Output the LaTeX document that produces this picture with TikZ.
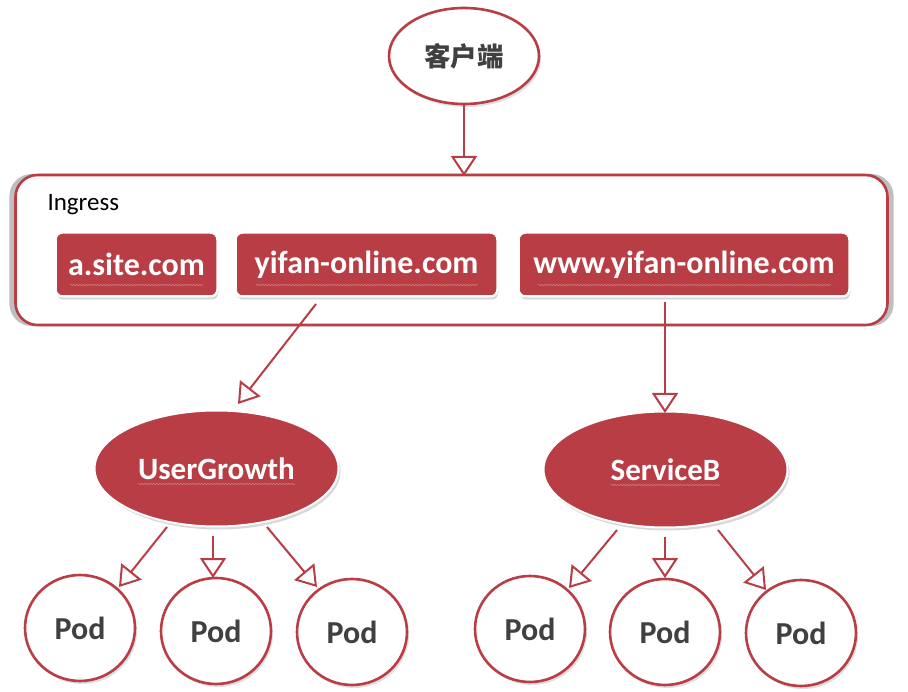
\documentclass[tikz,border=0pt]{standalone}
\usepackage{fontspec}
\setmainfont{Carlito}
\newfontfamily\cjk{Noto Sans CJK SC}
\usetikzlibrary{arrows.meta,shapes.geometric,shadows,decorations.pathmorphing}
\definecolor{rd}{RGB}{184,61,68}
\definecolor{txt}{RGB}{64,64,64}
\tikzset{
  conn/.style={draw=rd, line width=2pt, -{Triangle[open, length=20pt, width=26pt, line width=2pt, fill=white]}},
  podnode/.style={ellipse, draw=rd, line width=2.6pt, fill=white, minimum width=110pt, minimum height=106pt, inner sep=0pt,
    font=\fontsize{32}{36}\selectfont\bfseries, text=txt, drop shadow={shadow xshift=2pt, shadow yshift=-3pt, opacity=0.25}},
  svcnode/.style={ellipse, fill=rd, draw=white, line width=2pt, minimum width=244pt, minimum height=116pt, inner sep=0pt,
    font=\fontsize{31}{36}\selectfont\bfseries, text=white, drop shadow={shadow xshift=2pt, shadow yshift=-3pt, opacity=0.3}},
  hostbox/.style={rectangle, rounded corners=7pt, fill=rd, draw=white, line width=2.5pt, minimum height=64pt, inner sep=0pt,
    font=\fontsize{32}{36}\selectfont\bfseries, text=white, drop shadow={shadow xshift=1pt, shadow yshift=-3pt, opacity=0.35}},
  squig/.style={draw=rd!70!white, line width=0.6pt, decorate, decoration={snake, amplitude=0.8pt, segment length=3pt}}
}
\begin{document}
\begin{tikzpicture}[x=1pt,y=-1pt]
\useasboundingbox[fill=white] (0,0) rectangle (908,692);
% ingress container
\node[rectangle, rounded corners=22pt, draw=rd, line width=2.6pt, fill=white, minimum width=872pt, minimum height=150pt,
  drop shadow={shadow xshift=0pt, shadow yshift=0pt, shadow scale=1.014, opacity=0.5}] (ing) at (451.5,250) {};
\node[anchor=west, font=\fontsize{25}{28}\selectfont, text=black] (inglbl) at (44,205) {Ingress};
% client
\node[ellipse, draw=rd, line width=2.6pt, fill=white, minimum width=150pt, minimum height=96pt, inner sep=0pt,
  font=\cjk\fontsize{26.5}{30}\selectfont\bfseries, text=txt, drop shadow={shadow xshift=2pt, shadow yshift=-3pt, opacity=0.25}] (client) at (464,56) {客户端};
% host boxes
\node[hostbox, minimum width=162pt] (h1) at (136.5,264.5) {a.site.com};
\node[hostbox, minimum width=262pt] (h2) at (366.5,264.5) {yifan-online.com};
\node[hostbox, minimum width=331pt] (h3) at (684,264.5) {www.yifan-online.com};
% squiggly underlines
\draw[squig] (70,285) -- (203,285);
\draw[squig] (256,285) -- (478,285);
\draw[squig] (538,285) -- (831,285);
% services
\node[svcnode] (ug) at (216.5,468.5) {UserGrowth};
\node[svcnode] (sb) at (665.5,469.5) {ServiceB};
\draw[squig] (138,484) -- (295,484);
\draw[squig] (611,485) -- (720,485);
% pods
\node[podnode] (p1) at (80,628) {Pod};
\node[podnode] (p2) at (216,631) {Pod};
\node[podnode] (p3) at (352,632) {Pod};
\node[podnode] (p4) at (530,629) {Pod};
\node[podnode] (p5) at (665,632) {Pod};
\node[podnode] (p6) at (801,633) {Pod};
% connectors
\coordinate (c0) at (464,104);
\coordinate (c0e) at (464,176);
\draw[conn] (c0) -- (c0e);
\coordinate (a1) at (316,304);
\coordinate (a1e) at (238,404);
\draw[conn] (a1) -- (a1e);
\coordinate (a2) at (665,302);
\coordinate (a2e) at (665,413);
\draw[conn] (a2) -- (a2e);
% UserGrowth -> pods
\coordinate (u1) at (167,527); \coordinate (u1e) at (119,587);
\coordinate (u2) at (213,536); \coordinate (u2e) at (213,578);
\coordinate (u3) at (267,527); \coordinate (u3e) at (317,587);
\draw[conn] (u1) -- (u1e);
\draw[conn] (u2) -- (u2e);
\draw[conn] (u3) -- (u3e);
% ServiceB -> pods
\coordinate (s1) at (617,530); \coordinate (s1e) at (569,588);
\coordinate (s2) at (665,537); \coordinate (s2e) at (665,578);
\coordinate (s3) at (718,530); \coordinate (s3e) at (766,590);
\draw[conn] (s1) -- (s1e);
\draw[conn] (s2) -- (s2e);
\draw[conn] (s3) -- (s3e);
\end{tikzpicture}
\end{document}
